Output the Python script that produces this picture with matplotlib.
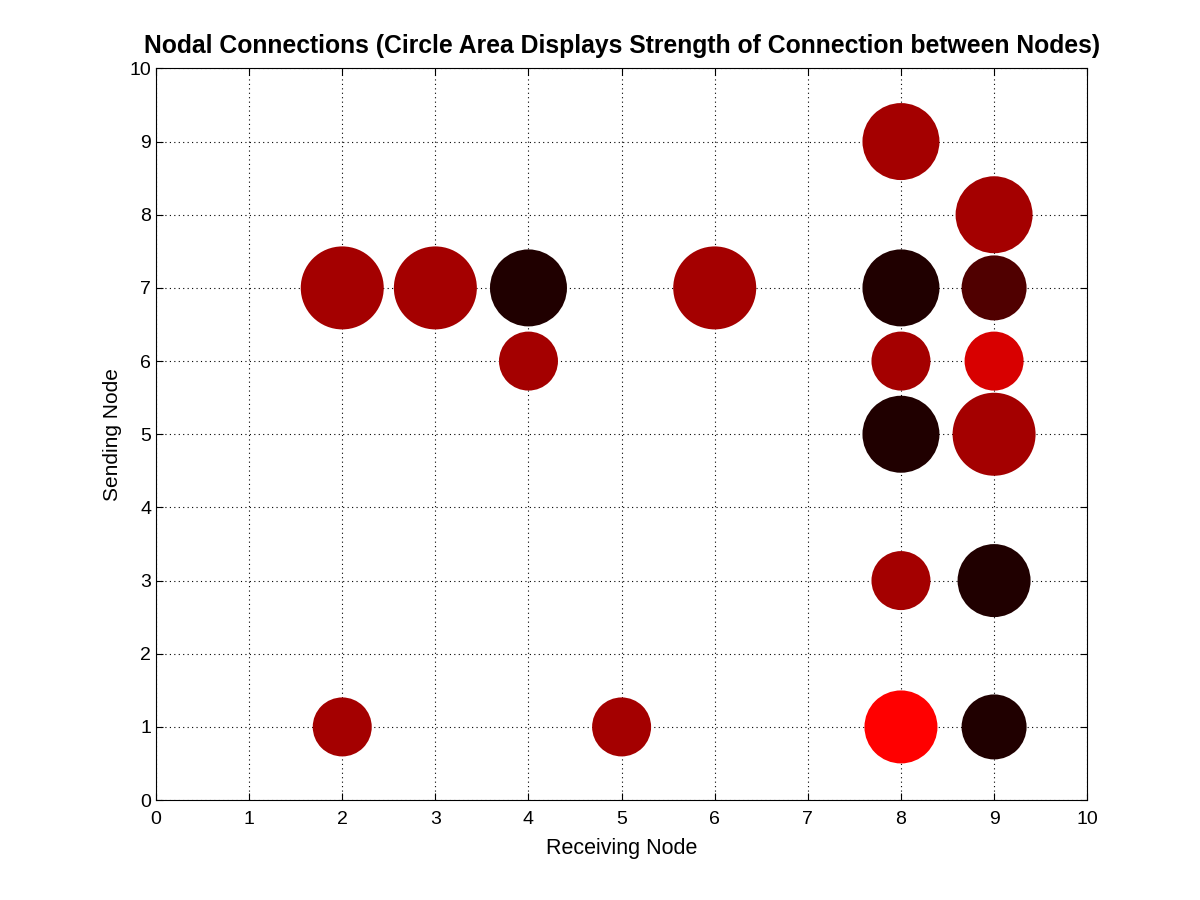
import numpy as np
import matplotlib.pyplot as plt

plt.rcParams['font.family'] = ['Liberation Sans', 'DejaVu Sans']

# receiving node (x), sending node (y), marker area (pt^2), colour
receiving = [2, 3, 4, 4, 6, 8, 9, 8, 9, 8, 9, 8, 9, 8, 9, 2, 5, 8, 9]
sending = [7, 7, 7, 6, 7, 9, 8, 7, 7, 6, 6, 5, 5, 3, 3, 1, 1, 1, 1]
sizes = [3571, 3571, 3073, 1804, 3571, 3073, 3073, 3073, 2190, 1804,
         1804, 3073, 3571, 1804, 2763, 1804, 1804, 2763, 2190]
colors = ['#A40000', '#A40000', '#200000', '#A40000', '#A40000',
          '#A40000', '#A40000', '#200000', '#500000', '#A40000',
          '#D80000', '#200000', '#A40000', '#A40000', '#200000',
          '#A40000', '#A40000', '#FF0000', '#200000']

fig = plt.figure(figsize=(12, 9), dpi=100)
ax = fig.add_axes([0.13, 0.111, 0.776, 0.813])

ax.scatter(receiving, sending, s=sizes, c=colors, edgecolors='none', zorder=3)

ax.set_xlim(0, 10)
ax.set_ylim(0, 10)
ax.set_xticks(np.arange(0, 11))
ax.set_yticks(np.arange(0, 11))
ax.tick_params(direction='in', top=True, right=True, labelsize=14, length=5)
ax.tick_params(axis='x', pad=8)
ax.grid(True, linestyle=(0, (1, 3)), color='black', linewidth=0.8)
for sp in ax.spines.values():
    sp.set_linewidth(0.8)

ax.set_xlabel("Receiving Node", fontsize=15.5, labelpad=7)
ax.set_ylabel("Sending Node", fontsize=15, labelpad=5)
ax.set_title("Nodal Connections (Circle Area Displays Strength of Connection between Nodes)",
             fontsize=17.8, fontweight='bold', pad=11)

fig.savefig("out.png", dpi=100)
